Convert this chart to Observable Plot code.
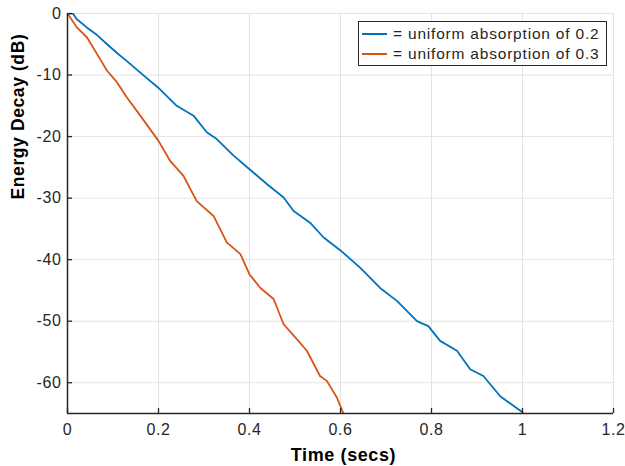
<!DOCTYPE html>
<html><head><meta charset="utf-8">
<script src="https://cdn.jsdelivr.net/npm/d3@7"></script>
<script src="https://cdn.jsdelivr.net/npm/@observablehq/plot@0.6"></script>
<style>
body{margin:0;background:#fff;}
#wrap{position:relative;width:625px;height:466px;font-family:"Liberation Sans",Arial,sans-serif;}
#wrap svg{position:absolute;left:0;top:0;}
.legend{position:absolute;left:358px;top:21px;width:249px;height:45px;border:1px solid #262626;background:#fff;box-sizing:border-box;font-size:15.5px;letter-spacing:0.8px;color:#262626;}
.row{position:absolute;left:0;height:20px;line-height:20px;white-space:nowrap;}
.sw{position:absolute;left:3px;top:9px;width:25px;height:2px;}
.lab{position:absolute;left:34px;top:0;}
</style>
</head><body>
<div id="wrap"></div>
<script>
const seriesNames = ["= uniform absorption of 0.2", "= uniform absorption of 0.3"];
const seriesColors = ["#0072BD", "#D95319"];
const xTicks = [0, 0.2, 0.4, 0.6, 0.8, 1, 1.2];
const yTicks = [0, -10, -20, -30, -40, -50, -60];
const xLabel = "Time (secs)";
const yLabel = "Energy Decay (dB)";

const blueT  = [0, 0.005, 0.012, 0.02, 0.043, 0.065, 0.087, 0.11, 0.13, 0.16, 0.2, 0.24, 0.277, 0.306, 0.328, 0.365, 0.4, 0.438, 0.475, 0.497, 0.533, 0.563, 0.6, 0.643, 0.687, 0.724, 0.768, 0.793, 0.819, 0.856, 0.885, 0.914, 0.951, 1.0];
const blueDb = [0, 0, 0, -0.9, -2.3, -3.5, -5.0, -6.5, -7.7, -9.6, -12.1, -15.0, -16.6, -19.3, -20.4, -23.1, -25.3, -27.7, -29.9, -32.1, -34.0, -36.4, -38.5, -41.3, -44.6, -46.7, -50.0, -50.8, -53.2, -54.8, -57.8, -58.9, -62.2, -64.8];
const orangeT  = [0, 0.021, 0.043, 0.065, 0.087, 0.109, 0.131, 0.16, 0.2, 0.226, 0.255, 0.284, 0.321, 0.35, 0.38, 0.4, 0.424, 0.453, 0.475, 0.504, 0.526, 0.555, 0.57, 0.592, 0.607];
const orangeDb = [0, -2.3, -3.9, -6.6, -9.3, -11.2, -13.7, -16.6, -20.7, -24.0, -26.4, -30.5, -32.9, -37.2, -39.1, -42.4, -44.6, -46.4, -50.5, -52.9, -54.8, -58.9, -59.7, -62.4, -65.1];

const blue = blueT.map((t, i) => ({t, db: blueDb[i]}));
const orange = orangeT.map((t, i) => ({t, db: orangeDb[i]}));

const axisColor = "#262626";
const gridColor = "#e3e3e3";
const xDomain = [0, 1.2];
const yDomain = [-65, 0];
// tick length in data units (≈5 px on each axis)
const xTickLen = (xDomain[1] - xDomain[0]) * 5 / 546;
const yTickLen = (yDomain[1] - yDomain[0]) * 5 / 400;

const chart = Plot.plot({
  width: 625, height: 466,
  marginLeft: 67, marginRight: 12, marginTop: 13, marginBottom: 53,
  style: {fontFamily: '"Liberation Sans", Arial, sans-serif', fontSize: "16px", color: axisColor, background: "#fff", letterSpacing: "0.6px"},
  x: {domain: xDomain},
  y: {domain: yDomain},
  marks: [
    Plot.gridX(xTicks, {stroke: gridColor, strokeOpacity: 1}),
    Plot.gridY(yTicks, {stroke: gridColor, strokeOpacity: 1}),
    Plot.line(blue, {x: "t", y: "db", stroke: seriesColors[0], strokeWidth: 1.8, clip: true}),
    Plot.line(orange, {x: "t", y: "db", stroke: seriesColors[1], strokeWidth: 1.8, clip: true}),
    Plot.ruleX(xTicks, {x: d => d, y1: yDomain[0], y2: yDomain[0] + yTickLen, stroke: axisColor, strokeWidth: 1.3}),
    Plot.ruleY(yTicks, {y: d => d, x1: xDomain[0], x2: xDomain[0] + xTickLen, stroke: axisColor, strokeWidth: 1.3}),
    Plot.axisX(xTicks, {tickSize: 0, tickPadding: 10, tickFormat: d => String(d), fill: axisColor, label: null}),
    Plot.axisY(yTicks, {tickSize: 0, tickPadding: 6, tickFormat: d => String(d), fill: axisColor, label: null}),
    Plot.ruleX([xDomain[0]], {stroke: axisColor, strokeWidth: 1.5}),
    Plot.ruleY([yDomain[0]], {stroke: axisColor, strokeWidth: 1.5}),
    Plot.text([xLabel], {frameAnchor: "bottom", dy: 42, dx: 3, text: d => d, fontWeight: "bold", fontSize: 18, fill: "#000", lineAnchor: "middle", letterSpacing: "1.4px"}),
    Plot.text([yLabel], {frameAnchor: "left", dx: -49, dy: -14, text: d => d, rotate: -90, fontWeight: "bold", fontSize: 17.5, fill: "#000", lineAnchor: "middle", letterSpacing: "0px"})
  ]
});

const wrap = document.getElementById("wrap");
wrap.appendChild(chart);

const legend = document.createElement("div");
legend.className = "legend";
seriesNames.forEach((name, i) => {
  const row = document.createElement("div");
  row.className = "row";
  row.style.top = (2 + i * 20) + "px";
  const sw = document.createElement("div");
  sw.className = "sw";
  sw.style.background = seriesColors[i];
  const lab = document.createElement("div");
  lab.className = "lab";
  lab.textContent = name;
  row.appendChild(sw);
  row.appendChild(lab);
  legend.appendChild(row);
});
wrap.appendChild(legend);
</script>
</body></html>
